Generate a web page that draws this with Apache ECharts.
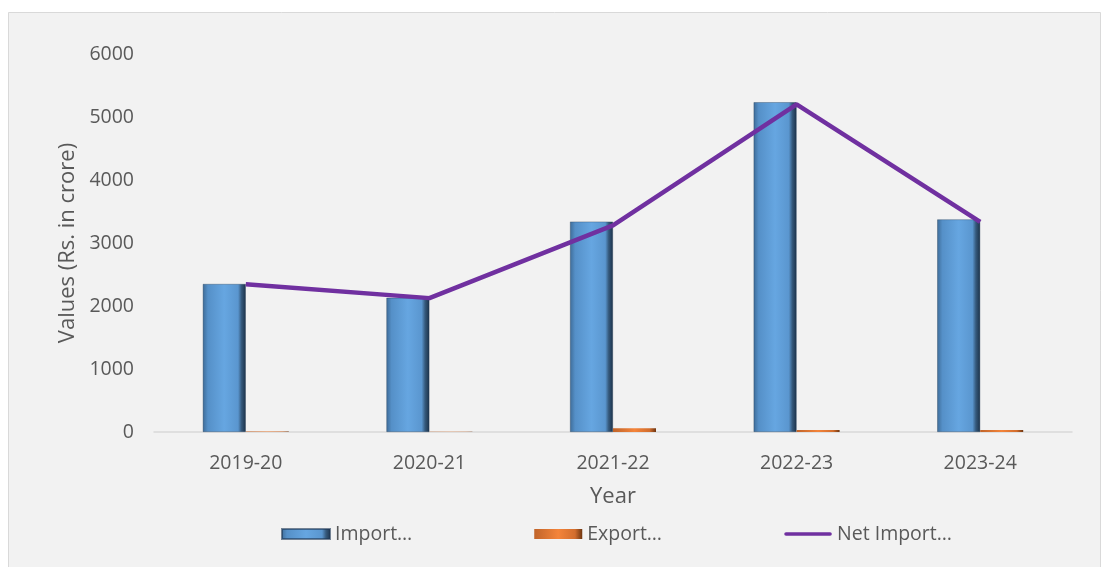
<!DOCTYPE html>
<html>
<head>
<meta charset="utf-8">
<script src="https://cdn.jsdelivr.net/npm/echarts@6/dist/echarts.min.js"></script>
<style>
html,body{margin:0;padding:0;background:#ffffff;}
#chart{width:1107px;height:567px;}
</style>
</head>
<body>
<div id="chart"></div>
<script>
var categories = ['2019-20', '2020-21', '2021-22', '2022-23', '2023-24'];
var importValues = [2350, 2130, 3340, 5235, 3375];
var exportValues = [6, 4, 58, 32, 30];
var netImportValues = [2345, 2125, 3280, 5200, 3335];
var yTicks = [0, 1000, 2000, 3000, 4000, 5000, 6000];
var seriesNames = ['Import…', 'Export…', 'Net Import…'];

var FONT = 'Open Sans';
var TXT = '#595959';

var chart = echarts.init(document.getElementById('chart'));

var blueGrad = new echarts.graphic.LinearGradient(0, 0, 1, 0, [
  {offset: 0, color: '#3e6c98'},
  {offset: 0.12, color: '#5590c8'},
  {offset: 0.5, color: '#66a6e1'},
  {offset: 0.82, color: '#5a96cf'},
  {offset: 0.9, color: '#35597c'},
  {offset: 1, color: '#1b3148'}
]);
var orangeGrad = new echarts.graphic.LinearGradient(0, 0, 1, 0, [
  {offset: 0, color: '#c0642a'},
  {offset: 0.5, color: '#f4843a'},
  {offset: 0.85, color: '#d26d2d'},
  {offset: 1, color: '#6e3510'}
]);

var option = {
  backgroundColor: '#ffffff',
  animation: false,
  graphic: [{
    type: 'rect',
    z: -100,
    silent: true,
    shape: {x: 8.5, y: 12.5, width: 1092, height: 560},
    style: {fill: '#f2f2f2', stroke: '#d9d9d9', lineWidth: 1}
  }],
  textStyle: {fontFamily: FONT},
  grid: {left: 154, right: 35, top: 54, bottom: 135, containLabel: false},
  legend: {
    left: 276,
    top: 519,
    itemWidth: 48,
    itemHeight: 10,
    itemGap: 122,
    textStyle: {fontFamily: FONT, fontSize: 19.5, color: TXT},
    data: [
      {name: seriesNames[0], icon: 'rect'},
      {name: seriesNames[1], icon: 'rect'},
      {name: seriesNames[2], icon: 'path://M0,0 M0,10 M48,0 M2,3.2 L46,3.2 A1.8,1.8 0 0 1 46,6.8 L2,6.8 A1.8,1.8 0 0 1 2,3.2 Z'}
    ]
  },
  xAxis: {
    type: 'category',
    data: categories,
    name: 'Year',
    nameLocation: 'middle',
    nameGap: 54,
    nameTextStyle: {fontFamily: FONT, fontSize: 22, color: TXT},
    axisLine: {show: true, lineStyle: {color: '#d9d9d9', width: 1.5}},
    axisTick: {show: false},
    axisLabel: {fontFamily: FONT, fontSize: 19.5, color: TXT, margin: 21},
    splitLine: {show: false}
  },
  yAxis: {
    type: 'value',
    min: yTicks[0],
    max: yTicks[yTicks.length - 1],
    interval: yTicks[1] - yTicks[0],
    name: 'Values (Rs. in crore)',
    nameLocation: 'middle',
    nameGap: 75,
    nameRotate: 90,
    nameTextStyle: {fontFamily: FONT, fontSize: 22, color: TXT},
    axisLine: {show: false},
    axisTick: {show: false},
    axisLabel: {fontFamily: FONT, fontSize: 19.5, color: TXT, margin: 20,
      formatter: function (v) { return String(v); }},
    splitLine: {show: false}
  },
  series: [
    {
      name: seriesNames[0],
      type: 'bar',
      data: importValues,
      barWidth: 43,
      barGap: '0%',
      itemStyle: {color: blueGrad, borderColor: 'rgba(30,55,85,0.6)', borderWidth: 0.6}
    },
    {
      name: seriesNames[1],
      type: 'bar',
      data: exportValues,
      barWidth: 43,
      barGap: '0%',
      itemStyle: {color: orangeGrad}
    },
    {
      name: seriesNames[2],
      type: 'line',
      data: netImportValues,
      symbol: 'none',
      z: 5,
      lineStyle: {color: '#7030a0', width: 4.5},
      itemStyle: {color: '#7030a0'}
    }
  ]
};
chart.setOption(option);
</script>
</body>
</html>
